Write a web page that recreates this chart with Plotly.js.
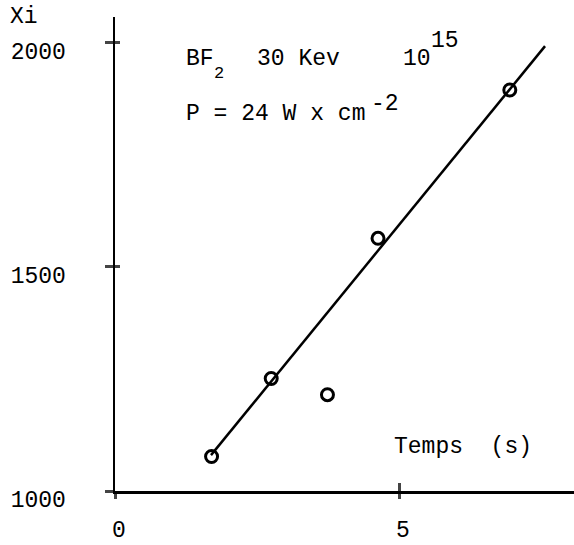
<!DOCTYPE html>
<html>
<head>
<meta charset="utf-8">
<script src="https://cdn.plot.ly/plotly-3.0.1.min.js"></script>
<style>
  html, body { margin: 0; padding: 0; background: #fff; }
  #plot { width: 574px; height: 545px; }
</style>
</head>
<body>
<div id="plot"></div>
<script>
/* points mesurés */
const temps = [1.70, 2.75, 3.74, 4.63, 6.95];
const xi = [1077, 1251, 1215, 1564, 1895];

/* droite d'ajustement */
const fitTemps = [1.69, 7.57];
const fitXi = [1080, 1993];

const xTicks = [0, 5];
const xTickText = ['0', '5'];
const yTicks = [1000, 1500, 2000];
const yTickText = ['1000', '1500', '2000'];

const police = 'Liberation Mono, Courier New, monospace';

const traceFit = {
  x: fitTemps,
  y: fitXi,
  mode: 'lines',
  line: { color: '#000', width: 2.5 },
  hoverinfo: 'skip'
};

const tracePoints = {
  x: temps,
  y: xi,
  mode: 'markers',
  marker: { symbol: 'circle-open', size: 12, color: '#000', line: { width: 3, color: '#000' } }
};

// deuxieme jeu d'axes : la partie interieure des petits traits
const traceVide = { x: [], y: [], xaxis: 'x2', yaxis: 'y2', hoverinfo: 'skip' };

const axeX = {
  range: [0, 8.08],
  tickvals: xTicks,
  ticktext: xTickText,
  ticks: 'outside',
  ticklen: 5,
  tickwidth: 3,
  showline: true,
  linewidth: 2.5,
  linecolor: '#000',
  showgrid: false,
  zeroline: false,
  ticklabelstandoff: 11,
  ticklabelshift: 4,
  tickfont: { family: police, size: 23, color: '#000' }
};

const axeY = {
  range: [1000, 2058],
  tickvals: yTicks,
  ticktext: yTickText,
  ticks: 'outside',
  ticklen: 8,
  tickwidth: 3,
  showline: true,
  linewidth: 2.5,
  linecolor: '#000',
  showgrid: false,
  zeroline: false,
  ticklabelstandoff: 34,
  ticklabelshift: 8,
  tickfont: { family: police, size: 23, color: '#000' }
};

// petit texte en haut : chaque morceau a sa place
function texte(t, px, py, taille) {
  return {
    text: t, xref: 'paper', yref: 'paper',
    x: (px - 115) / 459, y: (491 - py) / 474,
    xanchor: 'left', yanchor: 'middle', showarrow: false,
    font: { family: police, size: taille || 23, color: '#000' }
  };
}

Plotly.newPlot('plot', [traceFit, tracePoints, traceVide], {
  width: 574,
  height: 545,
  margin: { l: 115, r: 0, t: 17, b: 54 },
  paper_bgcolor: '#fff',
  plot_bgcolor: '#fff',
  showlegend: false,
  font: { family: police, size: 23, color: '#000' },
  xaxis: axeX,
  yaxis: axeY,
  xaxis2: {
    overlaying: 'x', range: [0, 8.08], tickvals: [5], ticks: 'inside', ticklen: 8, tickwidth: 3,
    showticklabels: false, showgrid: false, zeroline: false, showline: false
  },
  yaxis2: {
    overlaying: 'y', range: [1000, 2058], tickvals: [1500, 2000], ticks: 'inside', ticklen: 5, tickwidth: 3,
    showticklabels: false, showgrid: false, zeroline: false, showline: false
  },
  annotations: [
    texte('Xi', 8, 17),
    texte('BF', 184, 59.5),
    texte('2', 212, 73, 17),
    texte('30 Kev', 255, 59.5),
    texte('10', 401, 59.5),
    texte('15', 429, 41.5),
    texte('P = 24 W x cm', 184, 114),
    texte('-2', 369, 103.5),
    texte('Temps  (s)', 392, 447)
  ]
}, { displayModeBar: false, staticPlot: true });
</script>
</body>
</html>
